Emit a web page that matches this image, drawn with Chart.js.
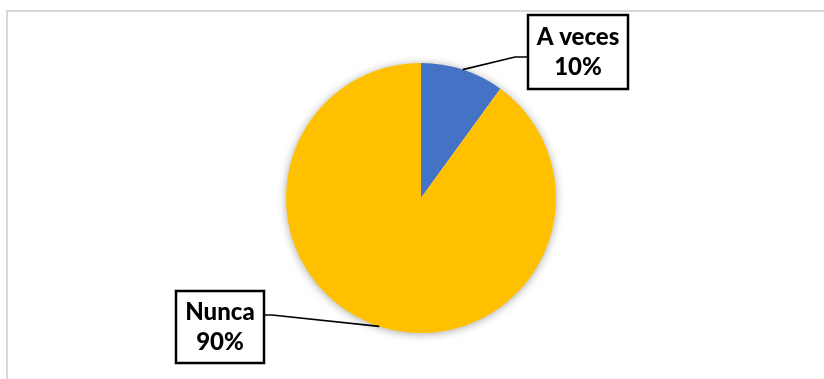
<!DOCTYPE html>
<html>
<head>
<meta charset="utf-8">
<script src="https://cdn.jsdelivr.net/npm/chart.js@4/dist/chart.umd.min.js"></script>
<style>
  html, body { margin: 0; padding: 0; background: #fff; }
  #wrap { position: relative; width: 824px; height: 379px; overflow: hidden; }
  #frame { position: absolute; left: 6px; top: 10px; width: 830px; height: 380px;
           border-top: 2px solid #d9d9d9; border-left: 2px solid #d9d9d9; box-sizing: border-box; }
  canvas { position: absolute; left: 0; top: 0; }
</style>
</head>
<body>
<div id="wrap">
  <div id="frame"></div>
  <canvas id="c" width="824" height="379"></canvas>
</div>
<script>
// Answers and their counts
const categories = ['A veces', 'Nunca'];
const values = [10, 90];
const colors = ['#4472C4', '#FFC000'];

// Callout boxes: x, y, width, height, and the elbow point of the leader line
const callouts = [
  { x: 528, y: 15, w: 100, h: 74, lineY: 57, side: 'left', elbowX: 515 },
  { x: 176, y: 291, w: 88, h: 72, lineY: 315, side: 'right', elbowX: 272 }
];

const total = values.reduce((a, b) => a + b, 0);
const FONT = '900 24px Lato, "Open Sans", sans-serif';

// Soft shadow under the whole pie
const pieShadow = {
  id: 'pieShadow',
  beforeDatasetsDraw(chart) {
    const arc = chart.getDatasetMeta(0).data[0];
    if (!arc) return;
    const ctx = chart.ctx;
    ctx.save();
    ctx.shadowColor = 'rgba(0,0,0,0.38)';
    ctx.shadowBlur = 10;
    ctx.shadowOffsetX = 0;
    ctx.shadowOffsetY = 1;
    ctx.fillStyle = '#ffffff';
    ctx.beginPath();
    ctx.arc(arc.x, arc.y, arc.outerRadius - 0.5, 0, Math.PI * 2);
    ctx.fill();
    ctx.restore();
  }
};

// Boxed callout labels with leader lines to each slice
const calloutLabels = {
  id: 'calloutLabels',
  afterDatasetsDraw(chart) {
    const ctx = chart.ctx;
    const meta = chart.getDatasetMeta(0);
    meta.data.forEach((arc, i) => {
      const c = callouts[i];
      const mid = (arc.startAngle + arc.endAngle) / 2;
      const px = arc.x + Math.cos(mid) * arc.outerRadius;
      const py = arc.y + Math.sin(mid) * arc.outerRadius;
      const bx = c.side === 'left' ? c.x : c.x + c.w;

      ctx.save();
      ctx.strokeStyle = '#000';
      ctx.lineWidth = 1.6;
      ctx.beginPath();
      ctx.moveTo(px, py);
      ctx.lineTo(c.elbowX, c.lineY);
      ctx.lineTo(bx, c.lineY);
      ctx.stroke();

      ctx.fillStyle = '#fff';
      ctx.fillRect(c.x, c.y, c.w, c.h);
      ctx.lineWidth = 2.5;
      ctx.strokeRect(c.x, c.y, c.w, c.h);

      const pct = Math.round(values[i] / total * 100) + '%';
      ctx.fillStyle = '#000';
      ctx.font = FONT;
      ctx.textAlign = 'center';
      ctx.textBaseline = 'middle';
      const cx = c.x + c.w / 2;
      const cy = c.y + c.h / 2;
      ctx.fillText(categories[i], cx, cy - 15);
      ctx.fillText(pct, cx, cy + 15);
      ctx.restore();
    });
  }
};

new Chart(document.getElementById('c'), {
  type: 'pie',
  data: {
    labels: categories,
    datasets: [{
      data: values,
      backgroundColor: colors,
      borderWidth: 0
    }]
  },
  options: {
    responsive: false,
    animation: false,
    layout: { padding: { left: 286, right: 268, top: 63, bottom: 46 } },
    plugins: {
      legend: { display: false },
      tooltip: { enabled: false }
    }
  },
  plugins: [pieShadow, calloutLabels]
});
</script>
</body>
</html>
